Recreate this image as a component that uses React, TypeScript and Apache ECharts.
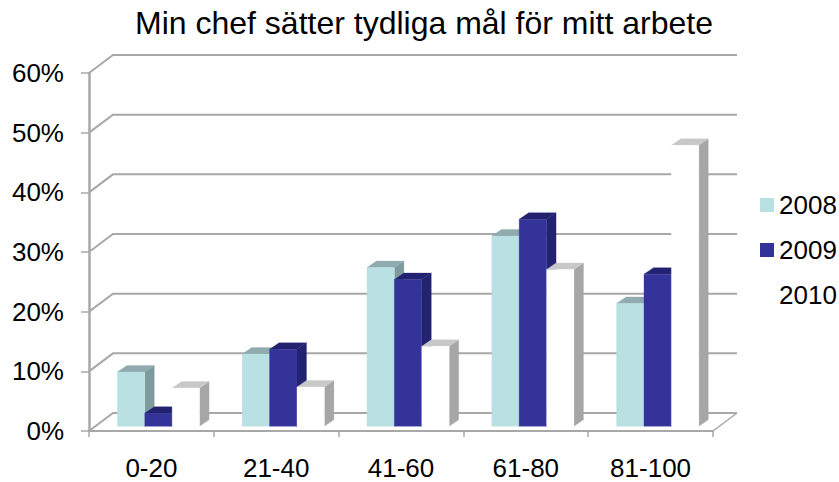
import React, { useEffect, useRef } from "react";
import * as echarts from "echarts";

const titleText = "Min chef sätter tydliga mål för mitt arbete";
const categories = ["0-20", "21-40", "41-60", "61-80", "81-100"];
const tickValues = [0, 10, 20, 30, 40, 50, 60];
const values2008 = [9.1, 12.1, 26.6, 31.9, 20.6];
const values2009 = [2.2, 12.9, 24.6, 34.7, 25.5];
const values2010 = [6.4, 6.6, 13.4, 26.3, 47.1];

const FONT = "'Liberation Sans', Arial, sans-serif";
const GRAY = "#a8a8a8";
const DEPTH_X = 9.5;
const DEPTH_Y = 6.5;
const BACK_X = 24;
const BACK_Y = 18;
const BASE_LIFT = 4.7;

function poly(points: number[][], fill: string) {
  return { type: "polygon", shape: { points }, style: { fill, stroke: fill, lineWidth: 0.3 } };
}

function barRenderer(seriesIndex: number, front: string, top: string, side: string) {
  return (_params: any, api: any) => {
    const cat = api.value(0);
    const val = api.value(1);
    const band = api.size([1, 0])[0];
    const w = band * 0.2195;
    const cx = api.coord([cat, 0])[0];
    const x0 = cx - band * 0.2725 + seriesIndex * w;
    const x1 = x0 + w;
    const y0 = api.coord([cat, 0])[1] - BASE_LIFT;
    const y1 = y0 - (api.coord([cat, 0])[1] - api.coord([cat, val])[1]);
    return {
      type: "group",
      children: [
        poly([[x1, y0], [x1 + DEPTH_X, y0 - DEPTH_Y], [x1 + DEPTH_X, y1 - DEPTH_Y], [x1, y1]], side),
        poly([[x0, y1], [x1, y1], [x1 + DEPTH_X, y1 - DEPTH_Y], [x0 + DEPTH_X, y1 - DEPTH_Y]], top),
        poly([[x0, y0], [x1, y0], [x1, y1], [x0, y1]], front),
      ],
    };
  };
}

function wallRenderer(params: any, api: any) {
  const val = api.value(1);
  const sys = params.coordSys;
  const y = api.coord([0, val])[1];
  const x0 = sys.x;
  const x1 = sys.x + sys.width;
  const children: any[] = [
    {
      type: "polyline",
      shape: { points: [[x0, y], [x0 + BACK_X, y - BACK_Y], [x1 + BACK_X, y - BACK_Y]] },
      style: { stroke: GRAY, lineWidth: 2, fill: "none" },
    },
  ];
  if (val === 0) {
    children.push({
      type: "line",
      shape: { x1: x1, y1: y, x2: x1 + BACK_X, y2: y - BACK_Y },
      style: { stroke: GRAY, lineWidth: 1.5 },
    });
  }
  return { type: "group", children };
}

function barSeries(name: string, values: number[], index: number, front: string, top: string, side: string) {
  return {
    name,
    type: "custom",
    clip: false,
    z: 3 + index,
    itemStyle: { color: front },
    encode: { x: 0, y: 1 },
    data: values.map((v, i) => [i, v]),
    renderItem: barRenderer(index, front, top, side),
  };
}

export default function App() {
  const ref = useRef<HTMLDivElement>(null);
  useEffect(() => {
    const chart = echarts.init(ref.current!, undefined, { renderer: "svg" });
    chart.setOption({
      animation: false,
      backgroundColor: "#ffffff",
      title: {
        text: titleText,
        left: 130,
        top: 2,
        textStyle: { fontFamily: FONT, fontSize: 32, fontWeight: "normal", color: "#000" },
      },
      grid: { left: 89, right: 126, top: 73, bottom: 51, containLabel: false, outerBoundsMode: "none" },
      legend: {
        orient: "vertical",
        left: 755,
        top: 187,
        itemWidth: 14,
        itemHeight: 14,
        itemGap: 19,
        icon: "rect",
        data: ["2008", "2009", "2010"],
        textStyle: { fontFamily: FONT, fontSize: 26, color: "#000" },
      },
      xAxis: {
        type: "category",
        data: categories,
        boundaryGap: true,
        axisLine: { lineStyle: { color: GRAY, width: 2 } },
        axisTick: { show: true, length: 6, alignWithLabel: false, lineStyle: { color: GRAY, width: 1.5 } },
        axisLabel: { fontFamily: FONT, fontSize: 26, lineHeight: 20, color: "#000", margin: 27 },
        splitLine: { show: false },
      },
      yAxis: {
        type: "value",
        min: 0,
        max: 60,
        interval: 10,
        axisLine: { show: true, lineStyle: { color: GRAY, width: 2.5 } },
        axisTick: { show: true, length: 8, lineStyle: { color: GRAY, width: 1.5 } },
        axisLabel: { fontFamily: FONT, fontSize: 26, color: "#000", margin: 25, padding: [3, 0, 0, 0], formatter: "{value}%" },
        splitLine: { show: false },
      },
      series: [
        {
          type: "custom",
          name: "walls",
          clip: false,
          z: 1,
          encode: { x: 0, y: 1 },
          data: tickValues.map((v) => [0, v]),
          renderItem: wallRenderer,
          silent: true,
        },
        barSeries("2008", values2008, 0, "#b9e0e3", "#8fabae", "#7d9a9c"),
        barSeries("2009", values2009, 1, "#333399", "#222270", "#222270"),
        barSeries("2010", values2010, 2, "#ffffff", "#c8c8c8", "#a6a6a6"),
      ],
    });
    return () => chart.dispose();
  }, []);
  return <div ref={ref} style={{ width: 839, height: 482, position: "fixed", left: 0, top: 0 }} />;
}
